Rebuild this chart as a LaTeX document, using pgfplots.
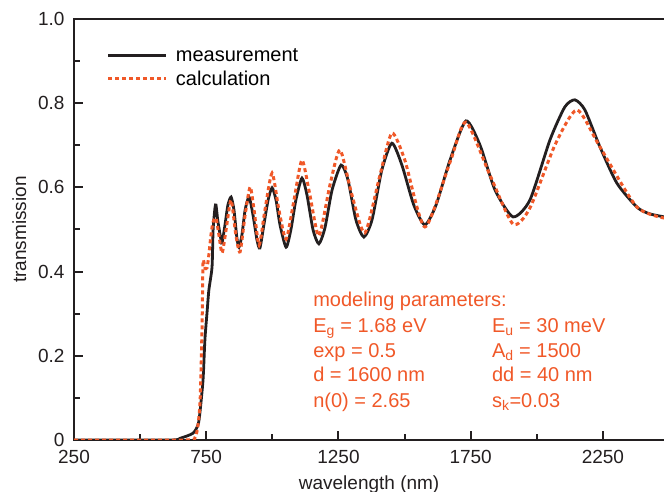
\documentclass[border=0pt]{standalone}
\usepackage{fontspec}
\setmainfont{Liberation Sans}
\usepackage{pgfplots}
\pgfplotsset{compat=1.18}
\definecolor{calc}{RGB}{240,88,40}
\definecolor{ax}{RGB}{35,31,32}

\begin{document}
\begin{tikzpicture}
\useasboundingbox (-74pt,-52pt) rectangle (590pt,440pt);
\begin{axis}[
  at={(0pt,0pt)}, anchor=south west,
  width=595pt, height=421pt, scale only axis,
  xmin=250, xmax=2500, ymin=0, ymax=1,
  axis line style={ax, line width=2.4pt},
  tick align=inside, xtick pos=bottom, ytick pos=left,
  major tick length=9pt, minor tick length=6pt,
  tick style={ax, line width=2pt},
  xtick={250,750,1250,1750,2250},
  xticklabels={250,750,1250,1750,2250},
  minor xtick={500,1000,1500,2000},
  ytick={0,0.2,0.4,0.6,0.8,1.0},
  yticklabels={0,0.2,0.4,0.6,0.8,1.0},
  minor ytick={0.1,0.3,0.5,0.7,0.9},
  ticklabel style={font=\fontsize{19}{22}\selectfont, text=ax},
  xticklabel style={yshift=-7pt},
  yticklabel style={xshift=-6pt},
  xlabel={wavelength (nm)}, ylabel={transmission},
  label style={font=\fontsize{19}{22}\selectfont, text=ax},
  xlabel style={at={(axis description cs:0.496,-0.105)}, anchor=center},
  ylabel style={at={(axis description cs:-0.092,0.5)}, anchor=center},
  legend style={at={(axis description cs:0.05,0.94)}, anchor=north west,
    draw=none, fill=none, font=\fontsize{20}{24}\selectfont, row sep=4pt,
    /tikz/every odd column/.append style={column sep=6pt}},
  legend cell align=left,
  legend image code/.code={\draw[#1] (0pt,0pt) -- (58pt,0pt);},
]
\addplot[ax, line width=2.8pt, smooth, tension=0.4] coordinates {
(250,0) (613,0) (651,0.004) (700,0.016) (719,0.036) (726,0.064) (738,0.143)
(745,0.238) (753,0.302) (760,0.356) (772,0.411) (776,0.499) (783,0.551)
(787,0.558) (794,0.52) (806,0.475) (810,0.468) (821,0.511) (832,0.558)
(844,0.577) (855,0.546) (866,0.48) (874,0.458) (885,0.487) (897,0.546)
(912,0.577) (927,0.534) (942,0.475) (953,0.456) (968,0.511) (984,0.57)
(999,0.599) (1014,0.57) (1029,0.511) (1052,0.458) (1070,0.499) (1089,0.57)
(1112,0.622) (1131,0.582) (1154,0.499) (1176,0.466) (1199,0.504) (1226,0.594)
(1260,0.653) (1286,0.618) (1316,0.523) (1346,0.482) (1377,0.523) (1414,0.641)
(1452,0.705) (1490,0.653) (1535,0.558) (1577,0.511) (1619,0.558) (1672,0.665)
(1732,0.758) (1785,0.701) (1842,0.594) (1910,0.530) (1974,0.570) (2050,0.713)
(2106,0.791) (2144,0.808) (2182,0.784) (2239,0.696) (2303,0.610) (2379,0.553)
(2428,0.537) (2500,0.528)
};
\addlegendentry{measurement}
\addplot[calc, line width=3pt, dash pattern=on 4pt off 3pt, smooth, tension=0.4] coordinates {
(250,0) (670,0) (708,0.007) (719,0.036) (727,0.095) (734,0.261) (738,0.423)
(745,0.409) (753,0.409) (760,0.44) (768,0.487) (776,0.518) (787,0.527)
(798,0.487) (810,0.444) (825,0.499) (844,0.57) (862,0.487) (878,0.447)
(897,0.534) (916,0.601) (931,0.546) (950,0.463) (972,0.546) (999,0.634)
(1025,0.546) (1052,0.477) (1082,0.570) (1112,0.665) (1142,0.582) (1176,0.485)
(1218,0.606) (1256,0.689) (1301,0.582) (1350,0.492) (1407,0.629) (1452,0.729)
(1501,0.665) (1577,0.506) (1672,0.66) (1732,0.755) (1823,0.629) (1910,0.513)
(1974,0.551) (2069,0.701) (2152,0.784) (2239,0.696) (2379,0.553) (2500,0.525)
};
\addlegendentry{calculation}
\begin{scope}[every node/.style={anchor=base west, text=calc, font=\fontsize{20}{24}\selectfont, inner sep=0pt}]
\node at (axis cs:1154,0.317) {modeling parameters:};
\node at (axis cs:1154,0.2565) {E\textsubscript{g} = 1.68 eV};
\node at (axis cs:1154,0.197) {exp = 0.5};
\node at (axis cs:1154,0.138) {d = 1600 nm};
\node at (axis cs:1154,0.077) {n(0) = 2.65};
\node at (axis cs:1830,0.2565) {E\textsubscript{u} = 30 meV};
\node at (axis cs:1830,0.197) {A\textsubscript{d} = 1500};
\node at (axis cs:1830,0.138) {dd = 40 nm};
\node at (axis cs:1830,0.077) {s\textsubscript{k}=0.03};
\end{scope}
\end{axis}
\end{tikzpicture}
\end{document}
